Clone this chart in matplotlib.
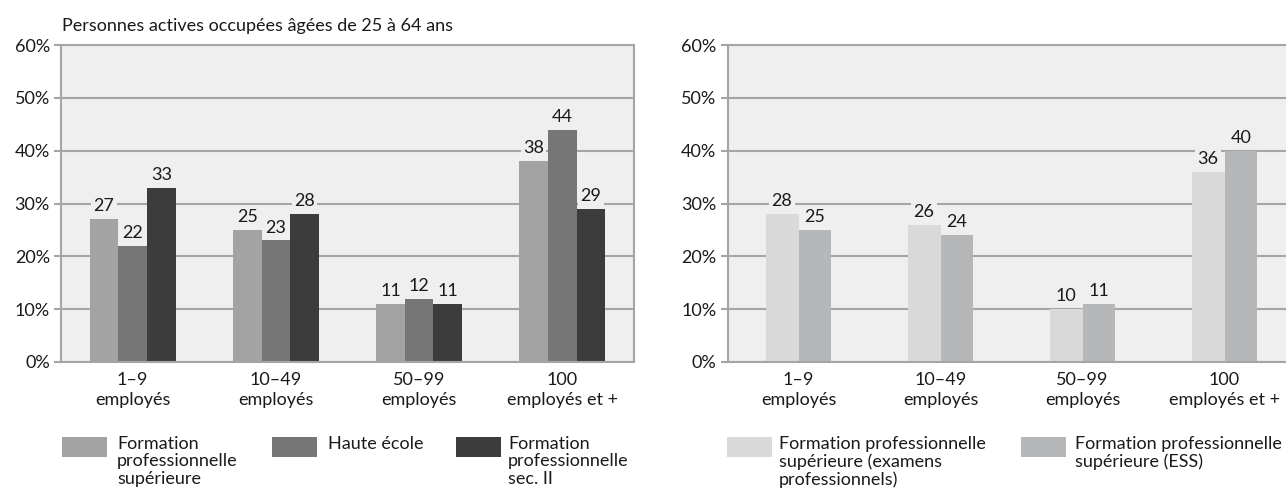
import matplotlib
matplotlib.use("Agg")
import matplotlib.pyplot as plt
from matplotlib.patches import Rectangle
import numpy as np

plt.rcParams['font.family'] = ['Lato', 'DejaVu Sans']

categories = ["1–9\nemployés", "10–49\nemployés", "50–99\nemployés", "100\nemployés et +"]

left_series = ["Formation\nprofessionnelle\nsupérieure", "Haute école", "Formation\nprofessionnelle\nsec. II"]
left_values = [
    [27, 25, 11, 38],
    [22, 23, 12, 44],
    [33, 28, 11, 29],
]
left_colors = ["#a3a3a3", "#767676", "#3c3c3c"]

right_series = ["Formation professionnelle\nsupérieure (examens\nprofessionnels)",
                "Formation professionnelle\nsupérieure (ESS)"]
right_values = [
    [28, 26, 10, 36],
    [25, 24, 11, 40],
]
right_colors = ["#d9d9d9", "#b6b7b9"]

title_text = "Personnes actives occupées âgées de 25 à 64 ans"
yticks = [0, 10, 20, 30, 40, 50, 60]

W, H = 1286, 501
BG = "#efefef"
GRID = "#a5a5a5"
FS = 13
TXT = "#1a1a1a"

fig = plt.figure(figsize=(W / 100, H / 100), dpi=100)


def px_box(x0, y_top, x1, y_bot):
    return [x0 / W, 1 - y_bot / H, (x1 - x0) / W, (y_bot - y_top) / H]


def style_axis(ax):
    ax.set_facecolor(BG)
    ax.set_xlim(-0.5, 3.5)
    ax.set_ylim(0, 60)
    ax.set_yticks(yticks)
    ax.set_yticklabels([f"{v}%" for v in yticks], fontsize=FS, color=TXT)
    ax.yaxis.grid(True, color=GRID, lw=1.5)
    ax.set_axisbelow(True)
    for s in ax.spines.values():
        s.set_color(GRID)
        s.set_linewidth(1.5)
    ax.tick_params(axis="y", length=5, width=1.5, color=GRID, pad=3)
    ax.tick_params(axis="x", length=0, pad=7)
    ax.set_xticks(np.arange(len(categories)))
    ax.set_xticklabels(categories, fontsize=FS, color=TXT, linespacing=1.3)


def draw_bars(ax, values, colors, width):
    n = len(values)
    x = np.arange(len(categories))
    for i, (vals, col) in enumerate(zip(values, colors)):
        offs = (i - (n - 1) / 2) * width
        bars = ax.bar(x + offs, vals, width=width, color=col, zorder=2)
        for b, v in zip(bars, vals):
            ax.annotate(str(v), (b.get_x() + b.get_width() / 2, v),
                        xytext=(0, 3.5), textcoords="offset points",
                        ha="center", va="bottom", fontsize=FS, color=TXT,
                        zorder=3,
                        bbox=dict(boxstyle="square,pad=0.12", fc=BG, ec="none"))


# left panel
ax1 = fig.add_axes(px_box(61, 45, 634, 362))
style_axis(ax1)
draw_bars(ax1, left_values, left_colors, 0.2)
fig.text(62 / W, 1 - 26 / H, title_text, fontsize=FS, va="center", ha="left", color=TXT)

# right panel (runs past the right edge of the figure)
ax2 = fig.add_axes(px_box(727.5, 45, 727.5 + 4 * 142, 362))
style_axis(ax2)
draw_bars(ax2, right_values, right_colors, 0.232)


def legend_item(x_patch, x_text, color, label):
    fig.add_artist(Rectangle((x_patch / W, 1 - 457 / H), 45 / W, 20 / H,
                             transform=fig.transFigure, fc=color, ec="none"))
    fig.text(x_text / W, 1 - 436 / H, label, fontsize=FS, va="top", ha="left",
             color=TXT, linespacing=1.1)


for xp, xt, c, lab in zip([62, 272, 456], [117, 328, 508], left_colors, left_series):
    legend_item(xp, xt, c, lab)
for xp, xt, c, lab in zip([727, 1021], [779, 1075], right_colors, right_series):
    legend_item(xp, xt, c, lab)

fig.savefig("out.png", dpi=100, facecolor="white")
